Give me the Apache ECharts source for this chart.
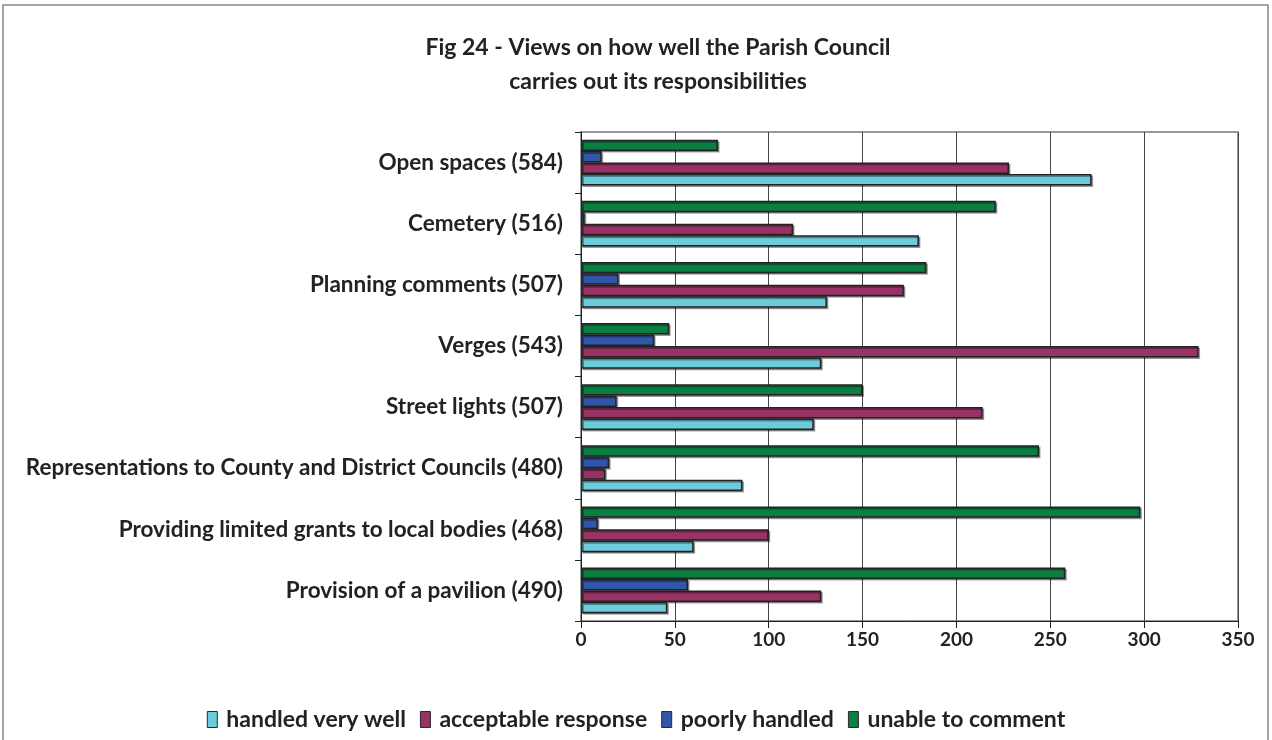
<!DOCTYPE html>
<html>
<head>
<meta charset="utf-8">
<script src="https://cdn.jsdelivr.net/npm/echarts@6/dist/echarts.min.js"></script>
<style>html,body{margin:0;padding:0;background:#fff;}#c{width:1272px;height:740px;}</style>
</head>
<body>
<div id="c"></div>
<script>
var categories = [
  'Provision of a pavilion (490)',
  'Providing limited grants to local bodies (468)',
  'Representations to County and District Councils (480)',
  'Street lights (507)',
  'Verges (543)',
  'Planning comments (507)',
  'Cemetery (516)',
  'Open spaces (584)'
];
var seriesNames = ['handled very well', 'acceptable response', 'poorly handled', 'unable to comment'];
var handledVeryWell    = [46, 60, 86, 124, 128, 131, 180, 272];
var acceptableResponse = [128, 100, 13, 214, 329, 172, 113, 228];
var poorlyHandled      = [57, 9, 15, 19, 39, 20, 2, 11];
var unableToComment    = [258, 298, 244, 150, 47, 184, 221, 73];
var xTicks = [0, 50, 100, 150, 200, 250, 300, 350];
var colors = ['#6CCCDC', '#993366', '#3155A8', '#0B7E42'];

var FONT = 'Lato';
var dataSets = [handledVeryWell, acceptableResponse, poorlyHandled, unableToComment];
var chart = echarts.init(document.getElementById('c'), null, {renderer: 'canvas'});
var series = [];
for (var i = dataSets.length - 1; i >= 0; i--) {
  series.push({
    name: seriesNames[i],
    type: 'bar',
    data: dataSets[i],
    barGap: '0%',
    barCategoryGap: '25%',
    itemStyle: {
      color: colors[i],
      borderColor: '#222',
      borderWidth: 1.5,
      shadowColor: 'rgba(0,0,0,0.35)',
      shadowOffsetX: 1.5,
      shadowOffsetY: 1.5,
      shadowBlur: 0
    }
  });
}
chart.setOption({
  animation: false,
  backgroundColor: '#fff',
  textStyle: {fontFamily: FONT},
  color: colors,
  title: {
    text: 'Fig 24 - Views on how well the Parish Council\ncarries out its responsibilities',
    left: 653, top: 26, textAlign: 'center',
    textStyle: {fontFamily: FONT, fontWeight: 'bold', fontSize: 23, lineHeight: 34, color: '#222'}
  },
  legend: {
    bottom: 4, left: 'center',
    itemWidth: 10, itemHeight: 16, itemGap: 14,
    icon: 'rect',
    itemStyle: {borderColor: '#2a2a2a', borderWidth: 1},
    textStyle: {fontFamily: FONT, fontWeight: 'bold', fontSize: 23, color: '#222', padding: [0,0,0,4]},
    data: seriesNames
  },
  grid: {
    left: 581, right: 34, top: 132, height: 489,
    show: true, borderColor: '#999', borderWidth: 2, backgroundColor: 'transparent'
  },
  xAxis: {
    type: 'value', min: 0, max: 350, interval: 50,
    axisLine: {show: true, lineStyle: {color: '#222', width: 1}},
    axisTick: {show: true, length: 7, lineStyle: {color: '#222'}},
    splitLine: {show: true, lineStyle: {color: '#444', width: 1}},
    axisLabel: {
      fontFamily: FONT, fontWeight: 'bold', fontSize: 19, color: '#222', margin: 9,
      formatter: function (v) { return xTicks.indexOf(v) >= 0 ? String(v) : ''; }
    }
  },
  yAxis: {
    type: 'category', data: categories,
    axisLine: {show: true, lineStyle: {color: '#222', width: 1}},
    axisTick: {show: true, length: 6, lineStyle: {color: '#222'}},
    axisLabel: {fontFamily: FONT, fontWeight: 'bold', fontSize: 22.5, color: '#222', margin: 18}
  },
  graphic: [{
    type: 'rect', shape: {x: 3, y: 5, width: 1265, height: 760},
    style: {fill: 'none', stroke: '#888', lineWidth: 1.5}, silent: true
  }],
  series: series
});
</script>
</body>
</html>
